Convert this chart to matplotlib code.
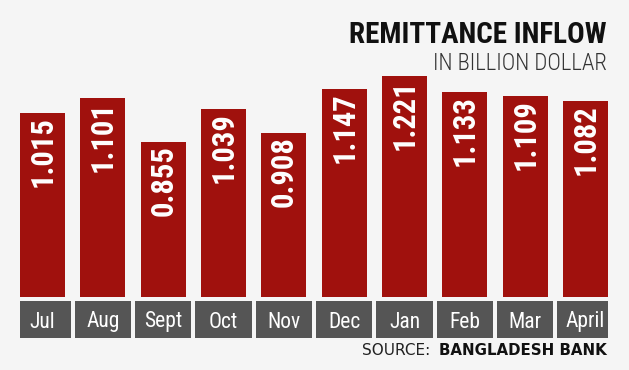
import matplotlib
matplotlib.use("Agg")
import matplotlib.pyplot as plt
import numpy as np

# ---------------------------------------------------------
# DATA
# ---------------------------------------------------------
months = ["Jul", "Aug", "Sept", "Oct", "Nov", "Dec", "Jan", "Feb", "Mar", "April"]
values = [1.015, 1.101, 0.855, 1.039, 0.908, 1.147, 1.221, 1.133, 1.109, 1.082]

title = "REMITTANCE INFLOW"
subtitle = "IN BILLION DOLLAR"
source_lead = "SOURCE:"
source_name = "BANGLADESH BANK"

# ---------------------------------------------------------
# STYLE / LAYOUT (pixels of a 629x370 canvas)
# ---------------------------------------------------------
W, H = 629, 370
BG = "#f5f5f5"
RED = "#a0110d"
GREY = "#555555"
COND = ["Roboto Condensed", "DejaVu Sans"]
PLAIN = ["DejaVu Sans"]

PX_PER_UNIT = 181.0      # bar height scale
ZERO_Y = 297.0           # px from top where value 0 sits
PITCH = 60.33            # px between bar centres
FIRST_X = 42.5           # px centre of first bar
BAR_W = 45 / PITCH
BOX_HALF = 28.3 / PITCH
BOX_TOP = 4 / PX_PER_UNIT
BOX_H = 37 / PX_PER_UNIT

fig = plt.figure(figsize=(W / 100, H / 100), dpi=100, facecolor=BG)
ax = fig.add_axes([0, 0, 1, 1])
ax.set_facecolor(BG)
ax.set_xlim(-FIRST_X / PITCH, (W - FIRST_X) / PITCH)
ax.set_ylim(-(H - ZERO_Y) / PX_PER_UNIT, ZERO_Y / PX_PER_UNIT)
ax.axis("off")

x = np.arange(len(months))

# bars
ax.bar(x, values, width=BAR_W, color=RED, linewidth=0)

# grey month boxes, outer ones trimmed to the bar edges
left = x - BOX_HALF
right = x + BOX_HALF
left[0] = x[0] - BAR_W / 2
right[-1] = x[-1] + BAR_W / 2
ax.bar(left, -BOX_H, bottom=-BOX_TOP, width=right - left, align="edge",
       color=GREY, linewidth=0)

for xi, m in zip(x, months):
    ax.text(xi, -(327.5 - ZERO_Y) / PX_PER_UNIT, m, ha="center", va="baseline",
            color="white", fontsize=15.5, family=COND)

# value labels inside bars
for xi, v in zip(x, values):
    ax.annotate(f"{v:.3f}", (xi, v), xytext=(0, -2.2), textcoords="offset points",
                rotation=90, ha="center", va="top", color="white",
                fontsize=22, fontweight="bold", family=COND)

# titles
fig.text(607 / W, 1 - 43 / H, title, ha="right", va="baseline",
         fontsize=21, fontweight="bold", family=COND, color="#111111")
fig.text(607 / W, 1 - 70 / H, subtitle, ha="right", va="baseline",
         fontsize=16.5, fontweight="light", family=COND, color="#333333")

# source line
src = fig.text(607 / W, 1 - 355 / H, source_name, ha="right", va="baseline",
               fontsize=10.8, fontweight="bold", family=PLAIN, color="#111111")
renderer = fig.canvas.get_renderer()
bb = src.get_window_extent(renderer)
fig.text((bb.x0 - 9) / W, 1 - 355 / H, source_lead, ha="right", va="baseline",
         fontsize=11, family=PLAIN, color="#222222")

fig.savefig("out.png", dpi=100, facecolor=BG)
